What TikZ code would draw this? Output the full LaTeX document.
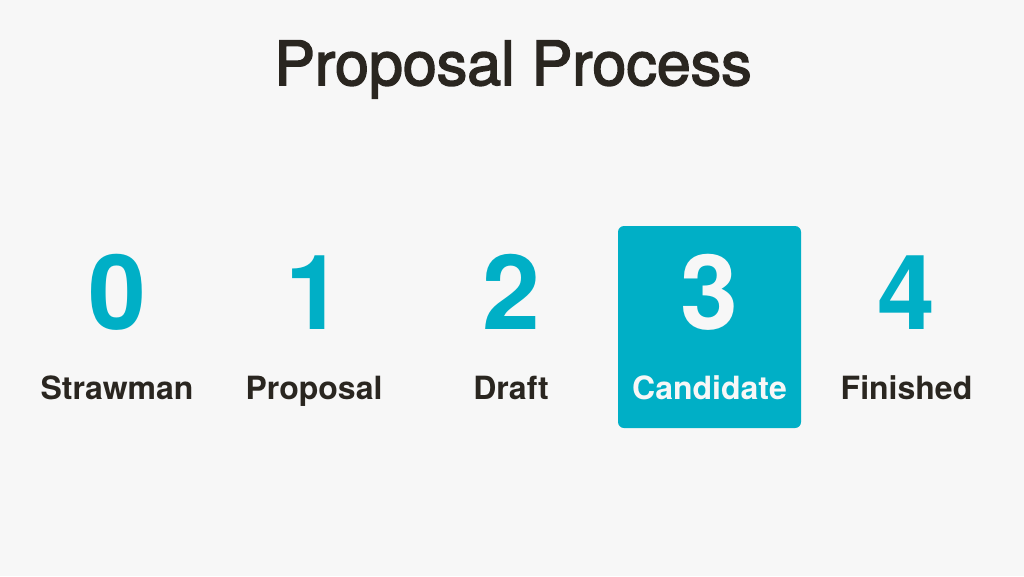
\documentclass[tikz,border=0pt]{standalone}
\usepackage{fontspec}
\setmainfont{TeX Gyre Heros}
\newfontfamily\titlefont[FakeBold=2.5]{TeX Gyre Heros}
\definecolor{bg}{HTML}{F7F7F7}
\definecolor{teal}{HTML}{00AFC6}
\definecolor{ink}{HTML}{2A2620}
\begin{document}
\begin{tikzpicture}[x=1pt,y=-1pt,
  title/.style={anchor=base,inner sep=0pt,text=ink,font=\titlefont\fontsize{61}{72}\selectfont},
  digit/.style={anchor=base,inner sep=0pt,text=teal,font=\fontsize{104}{120}\selectfont\bfseries},
  label/.style={anchor=base,inner sep=0pt,text=ink,font=\fontsize{32}{38}\selectfont\bfseries},
  hilite/.style={fill=teal,rounded corners=6pt}]
\fill[bg] (0,0) rectangle (1024,576);
\useasboundingbox (0,0) rectangle (1024,576);
\node[title] (t) at (513,85) {Proposal Process};
\fill[hilite] (618,226) rectangle (801,428);
\node[digit] (d0) at (117,329) {0};
\node[digit] (d1) at (314,329) {1};
\node[digit] (d2) at (511,329) {2};
\node[digit,text=bg] (d3) at (709.5,329) {3};
\node[digit] (d4) at (906.5,329) {4};
\node[label] (l0) at (117,399) {Strawman};
\node[label] (l1) at (314,399) {Proposal};
\node[label] (l2) at (511,399) {Draft};
\node[label,text=bg] (l3) at (709.5,399) {Candidate};
\node[label] (l4) at (906.5,399) {Finished};
\end{tikzpicture}
\end{document}
